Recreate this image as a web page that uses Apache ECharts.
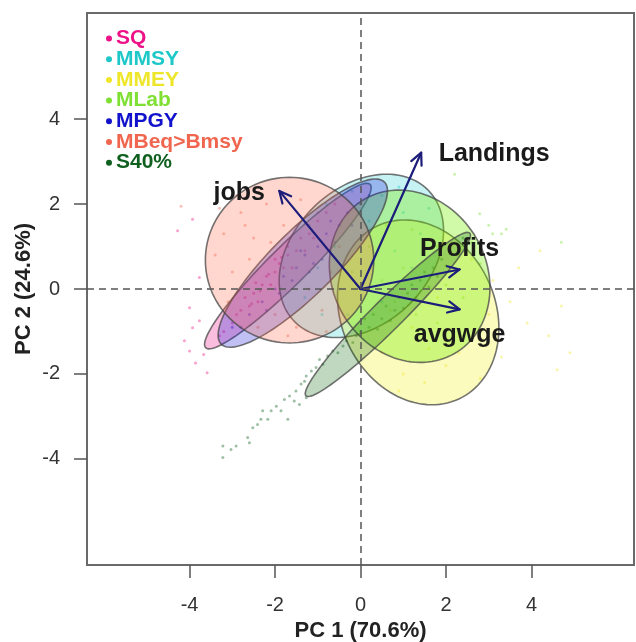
<!DOCTYPE html>
<html>
<head>
<meta charset="utf-8">
<script src="https://cdn.jsdelivr.net/npm/echarts@6/dist/echarts.min.js"></script>
<style>
  html, body { margin: 0; padding: 0; background: #fff; }
  #chart { width: 636px; height: 642px; }
</style>
</head>
<body>
<div id="chart"></div>
<script>
// Scenario groups
const groups = ['SQ', 'MMSY', 'MMEY', 'MLab', 'MPGY', 'MBeq>Bmsy', 'S40%'];

// PCA scores per group [PC1, PC2]
const scoresSQ = [[-3.93,1.64],[-4.28,1.37],[-3.77,0.27],[-4.0,-0.44],[-4.12,-1.22],[-4.0,-1.46],[-3.86,-1.74],[-3.67,-1.54],[-3.77,-0.75],[-3.93,-0.91],[-3.59,-1.97],[-3.3,-1.1],[-3.2,-1.0],[-3.0,-0.8],[-2.9,-0.6],[-2.8,-0.5],[-2.7,-0.2],[-2.6,-0.4],[-2.5,-0.1],[-2.4,-0.3],[-2.3,0.1],[-2.2,0.3],[-2.1,0.1],[-2.0,0.4],[-2.0,0.7],[-1.9,0.6],[-1.8,0.5],[-1.7,0.8],[-1.7,1.0],[-1.6,0.5],[-1.5,0.9],[-1.4,1.2],[-1.3,0.9],[-1.2,1.3],[-1.1,1.2],[-1.0,1.6],[-0.8,1.8],[-0.6,2.0],[-2.35,-0.05],[-2.15,0.35],[-1.85,0.75],[-2.55,-0.35],[-2.45,0.15]];
const scoresMMSY = [[-1.2,1.5],[-0.8,2.0],[-0.2,2.3],[0.5,2.2],[1.0,1.8],[1.4,1.3],[-1.0,0.5],[-0.5,0.0],[0.3,0.6],[0.8,0.9],[-0.3,-0.6],[0.5,-0.3],[1.2,0.5],[-1.3,-0.2],[0.0,1.2],[-0.6,1.0],[0.2,1.6],[1.6,1.9],[-0.9,-0.6],[0.9,2.4]];
const scoresMMEY = [[0.5,-1.5],[1.0,-2.0],[1.5,-2.2],[2.0,-1.8],[2.6,-1.2],[3.0,-0.6],[3.1,0.2],[2.6,0.7],[1.8,-0.2],[1.2,-0.9],[0.7,-0.5],[2.3,-1.5],[3.5,-0.3],[3.9,-0.8],[4.4,-1.1],[4.7,-0.4],[4.9,-1.5],[3.7,0.5],[4.2,0.9],[1.6,-1.4],[2.8,-2.1],[0.9,-2.4],[4.6,-1.9],[3.3,-1.6]];
const scoresMLab = [[0.2,1.0],[0.6,1.5],[1.2,1.4],[1.8,1.0],[2.3,0.8],[2.6,1.1],[3.0,1.5],[3.3,1.3],[0.5,0.2],[1.0,0.5],[1.5,0.3],[2.0,0.1],[2.4,-0.2],[0.8,-0.3],[1.3,-0.6],[1.8,-0.8],[-0.2,0.4],[2.8,0.6],[2.79,1.77],[3.41,1.41],[3.09,1.3],[2.2,2.7],[4.7,1.1]];
const scoresMPGY = [[-3.0,-0.9],[-2.6,-0.6],[-2.3,-0.3],[-2.0,0.0],[-1.8,0.3],[-1.5,0.5],[-1.3,0.8],[-1.0,1.0],[-0.8,1.3],[-0.5,1.5],[-0.3,1.8],[0.0,2.0],[-1.2,0.4],[-0.9,0.7],[-1.6,0.2],[-2.2,-0.5],[-0.6,1.1],[-1.9,-0.1],[-0.2,1.5],[0.2,2.2],[-2.8,-0.9],[-1.4,0.9],[-0.7,1.6],[-1.1,0.6]];
const scoresMBeq = [[-3.2,1.3],[-2.8,1.8],[-2.5,1.2],[-3.0,0.4],[-2.2,2.0],[-1.8,1.5],[-3.4,0.8],[-2.6,0.7],[-1.4,2.1],[-2.0,-0.6],[-1.5,-0.9],[-0.9,-0.5],[-1.2,0.0],[-0.7,0.4],[-3.1,-0.3],[-2.4,-0.9],[-1.0,1.8],[-0.5,1.0],[-3.3,1.9],[-2.9,2.2],[-1.7,-1.1],[-0.8,-1.0],[-4.2,1.95],[-2.7,1.5],[-2.1,1.1]];
const scoresS40 = [[-3.22,-3.97],[-3.22,-3.70],[-3.03,-3.78],[-2.91,-3.70],[-2.64,-3.50],[-2.60,-3.62],[-2.52,-3.27],[-2.41,-3.19],[-2.33,-3.07],[-2.17,-3.07],[-2.29,-2.87],[-2.09,-2.87],[-1.97,-2.76],[-1.86,-2.87],[-1.78,-2.60],[-1.70,-3.07],[-1.66,-2.52],[-1.55,-2.64],[-1.51,-2.40],[-1.39,-2.24],[-1.31,-2.17],[-1.27,-2.05],[-1.15,-1.93],[-1.04,-1.85],[-0.88,-1.77],[-0.96,-1.66],[-0.77,-1.58],[-0.65,-1.46],[-0.53,-1.50],[-0.41,-1.34],[-0.33,-1.22],[-0.18,-1.26],[-1.27,-2.56],[-1.43,-2.72],[0.0,-1.0],[0.2,-0.9],[0.3,-0.6],[0.5,-0.7],[0.6,-0.4],[0.8,-0.5],[0.9,-0.2],[1.1,-0.1],[1.2,0.1],[1.4,0.2],[1.5,0.4],[1.7,0.5],[1.9,0.7],[2.1,0.9],[2.3,1.0],[0.4,-0.95],[0.7,-0.75],[1.0,-0.45],[1.3,-0.2],[1.6,0.05],[1.8,0.3],[2.0,0.55],[0.1,-0.7],[-0.1,-1.1],[2.4,1.2]];
const groupScores = [scoresSQ, scoresMMSY, scoresMMEY, scoresMLab, scoresMPGY, scoresMBeq, scoresS40];

// Confidence ellipses per group: centre, semi-axes, rotation (degrees)
const ellipseCx    = [-1.70, 0.02, 1.35, 1.15, -1.35, -1.66, 0.64];
const ellipseCy    = [ 0.54, 0.78, -0.55, 0.30, 0.61, 0.68, -0.60];
const ellipseMajor = [ 2.72, 2.20, 2.25, 2.10, 2.70, 1.97, 2.71];
const ellipseMinor = [ 0.45, 1.60, 1.80, 1.80, 0.75, 1.95, 0.36];
const ellipseAngle = [ 45, 45, 115, 120, 45, 0, 45];

// Variable loadings
const loadingNames = ['Landings', 'jobs', 'Profits', 'avgwge'];
const loadingX = [1.42, -1.90, 2.32, 2.32];
const loadingY = [3.21, 2.31, 0.46, -0.48];

// Axis ticks
const tickValues = [-4, -2, 0, 2, 4];

// Styles
const groupColors = ['#ee1289', '#1fc8c8', '#eee62a', '#7fe033', '#1212cc', '#f0664e', '#0f5f1f'];
const ellipseFill = ['rgba(238,18,137,0.28)', 'rgba(0,197,205,0.22)', 'rgba(238,238,0,0.26)', 'rgba(118,238,0,0.34)',
                     'rgba(30,30,220,0.28)', 'rgba(255,99,71,0.26)', 'rgba(0,100,0,0.25)'];
const labelOffsets = [[73, 1], [-40, 2], [0, -20], [0, 26]];
const FONT = '"Liberation Sans", Arial, sans-serif';

function hexToRgba(hex, a) {
  const n = parseInt(hex.slice(1), 16);
  return 'rgba(' + ((n >> 16) & 255) + ',' + ((n >> 8) & 255) + ',' + (n & 255) + ',' + a + ')';
}

const chart = echarts.init(document.getElementById('chart'), null, { renderer: 'canvas' });

const series = [];

// Score points
groups.forEach((g, i) => {
  series.push({
    name: g,
    type: 'scatter',
    z: 1,
    symbol: 'circle',
    symbolSize: 3,
    itemStyle: { color: hexToRgba(groupColors[i], 0.5) },
    data: groupScores[i],
    silent: true
  });
});

// Ellipses
series.push({
  type: 'custom',
  z: 2,
  silent: true,
  encode: { x: 0, y: 1 },
  data: ellipseCx.map((cx, i) => [cx, ellipseCy[i], ellipseMajor[i], ellipseMinor[i], ellipseAngle[i]]),
  renderItem: function (params, api) {
    const cx = api.value(0), cy = api.value(1);
    const a = api.value(2), b = api.value(3);
    const ang = api.value(4) * Math.PI / 180;
    const pts = [];
    const n = 120;
    for (let k = 0; k < n; k++) {
      const t = 2 * Math.PI * k / n;
      const ex = a * Math.cos(t), ey = b * Math.sin(t);
      pts.push(api.coord([cx + ex * Math.cos(ang) - ey * Math.sin(ang),
                          cy + ex * Math.sin(ang) + ey * Math.cos(ang)]));
    }
    return {
      type: 'polygon',
      shape: { points: pts },
      style: { fill: ellipseFill[params.dataIndex], stroke: 'rgba(70,70,70,0.75)', lineWidth: 1.6 }
    };
  }
});

// Zero reference lines
series.push({
  type: 'line',
  z: 3,
  data: [],
  silent: true,
  markLine: {
    silent: true,
    symbol: 'none',
    label: { show: false },
    lineStyle: { color: '#555', width: 1.5, type: [7, 5] },
    data: [{ xAxis: 0 }, { yAxis: 0 }]
  }
});

// Loading arrows with labels
series.push({
  type: 'custom',
  z: 4,
  silent: true,
  encode: { x: 0, y: 1 },
  data: loadingX.map((x, i) => [x, loadingY[i]]),
  renderItem: function (params, api) {
    const o = api.coord([0, 0]);
    const p = api.coord([api.value(0), api.value(1)]);
    const ang = Math.atan2(p[1] - o[1], p[0] - o[0]);
    const hl = 13, ha = Math.PI / 7;
    const h1 = [p[0] - hl * Math.cos(ang - ha), p[1] - hl * Math.sin(ang - ha)];
    const h2 = [p[0] - hl * Math.cos(ang + ha), p[1] - hl * Math.sin(ang + ha)];
    const stroke = { stroke: '#1c1c7a', lineWidth: 2.2, fill: null, lineCap: 'round', lineJoin: 'round' };
    const off = labelOffsets[params.dataIndex];
    return {
      type: 'group',
      children: [
        { type: 'line', shape: { x1: o[0], y1: o[1], x2: p[0], y2: p[1] }, style: stroke },
        { type: 'polyline', shape: { points: [h1, p, h2] }, style: stroke },
        {
          type: 'text',
          x: p[0] + off[0], y: p[1] + off[1],
          style: {
            text: loadingNames[params.dataIndex],
            fill: '#1a1a1a',
            font: 'bold 25px ' + FONT,
            align: 'center',
            verticalAlign: 'middle'
          }
        }
      ]
    };
  }
});

const option = {
  backgroundColor: '#fff',
  animation: false,
  grid: {
    left: 87, right: 2, top: 13, bottom: 77,
    outerBoundsMode: 'none',
    containLabel: false,
    show: true, borderColor: '#6a6a6a', borderWidth: 2, backgroundColor: 'transparent'
  },
  legend: {
    orient: 'vertical',
    left: 101, top: 23,
    icon: 'circle',
    itemWidth: 6, itemHeight: 6,
    itemGap: -0.3,
    selectedMode: false,
    textStyle: { fontFamily: FONT, fontWeight: 'bold', fontSize: 21, lineHeight: 18.5, padding: [0, 0, 0, -1] },
    data: groups.map((g, i) => ({
      name: g,
      itemStyle: { color: groupColors[i], opacity: 1 },
      textStyle: { color: groupColors[i] }
    }))
  },
  xAxis: {
    type: 'value',
    min: -6.4, max: 6.4,
    name: 'PC 1 (70.6%)',
    nameLocation: 'middle',
    nameGap: 55,
    nameMoveOverlap: false,
    nameTextStyle: { fontFamily: FONT, fontWeight: 'bold', fontSize: 22, color: '#222' },
    axisLine: { show: false, onZero: false },
    splitLine: { show: false },
    axisTick: { show: true, length: 13, customValues: tickValues, lineStyle: { color: '#555', width: 1.5 } },
    axisLabel: { customValues: tickValues, margin: 30, fontFamily: FONT, fontSize: 20, color: '#333' }
  },
  yAxis: {
    type: 'value',
    min: -6.5, max: 6.5,
    name: 'PC 2 (24.6%)',
    nameLocation: 'middle',
    nameGap: 52,
    nameRotate: 90,
    nameMoveOverlap: false,
    nameTextStyle: { fontFamily: FONT, fontWeight: 'bold', fontSize: 22, color: '#222' },
    axisLine: { show: false, onZero: false },
    splitLine: { show: false },
    axisTick: { show: true, length: 13, customValues: tickValues, lineStyle: { color: '#555', width: 1.5 } },
    axisLabel: { customValues: tickValues, margin: 27, fontFamily: FONT, fontSize: 20, color: '#333' }
  },
  series: series
};

chart.setOption(option);
</script>
</body>
</html>
